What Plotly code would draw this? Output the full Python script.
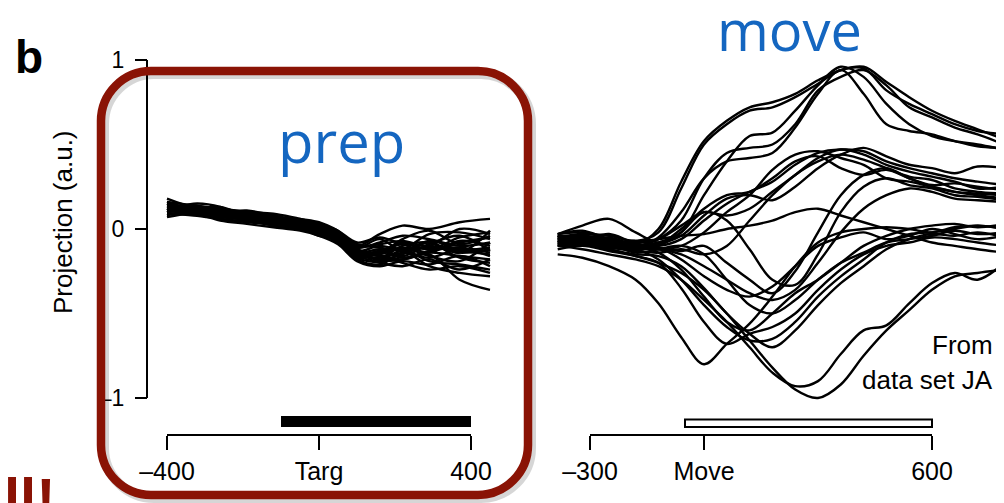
import plotly.graph_objects as go

W, H = 1004, 503

# ---------------- data ----------------
prep_t = [-400, -330, -260, -190, -120, -50, 0, 50, 100, 160, 220, 290, 370, 450]
prep_01 = [0.18, 0.13, 0.12, 0.10, 0.07, 0.05, 0.03, -0.02, -0.10, -0.03, 0.02, 0.00, 0.04, 0.06]
prep_02 = [0.12, 0.14, 0.10, 0.08, 0.06, 0.02, 0.00, -0.06, -0.15, -0.14, -0.08, -0.12, -0.05, -0.02]
prep_03 = [0.10, 0.12, 0.09, 0.06, 0.04, 0.03, 0.01, -0.04, -0.12, -0.18, -0.15, -0.10, -0.14, -0.12]
prep_04 = [0.15, 0.10, 0.11, 0.09, 0.05, 0.04, 0.02, -0.05, -0.14, -0.16, -0.20, -0.24, -0.22, -0.26]
prep_05 = [0.08, 0.11, 0.08, 0.07, 0.06, 0.01, -0.02, -0.07, -0.16, -0.19, -0.18, -0.15, -0.30, -0.36]
prep_06 = [0.13, 0.12, 0.13, 0.08, 0.07, 0.04, 0.00, -0.03, -0.11, -0.08, -0.04, -0.06, -0.10, -0.08]
prep_07 = [0.11, 0.09, 0.07, 0.06, 0.02, 0.00, -0.03, -0.08, -0.18, -0.21, -0.14, -0.17, -0.12, -0.16]
prep_08 = [0.14, 0.13, 0.10, 0.11, 0.08, 0.05, 0.01, -0.04, -0.13, -0.10, -0.12, -0.03, -0.02, -0.06]
prep_09 = [0.09, 0.08, 0.06, 0.04, 0.03, 0.02, -0.01, -0.06, -0.15, -0.17, -0.10, -0.08, -0.17, -0.20]
prep_10 = [0.16, 0.14, 0.12, 0.10, 0.09, 0.06, 0.04, -0.01, -0.08, -0.05, -0.09, -0.14, -0.07, -0.10]
prep_11 = [0.12, 0.10, 0.11, 0.07, 0.05, 0.03, 0.00, -0.05, -0.17, -0.20, -0.22, -0.18, -0.24, -0.18]
prep_12 = [0.10, 0.12, 0.08, 0.09, 0.05, 0.02, -0.01, -0.05, -0.12, -0.14, -0.06, -0.01, -0.09, -0.04]
prep_13 = [0.13, 0.11, 0.09, 0.08, 0.06, 0.04, 0.02, -0.03, -0.14, -0.12, -0.16, -0.09, -0.04, -0.13]
prep_14 = [0.07, 0.09, 0.05, 0.03, 0.01, -0.01, -0.04, -0.09, -0.19, -0.22, -0.19, -0.21, -0.16, -0.22]
prep_15 = [0.14, 0.12, 0.12, 0.09, 0.07, 0.05, 0.03, -0.02, -0.09, -0.11, -0.13, -0.11, -0.13, -0.15]
prep_16 = [0.11, 0.13, 0.10, 0.07, 0.04, 0.02, 0.00, -0.04, -0.13, -0.15, -0.11, -0.16, -0.19, -0.08]
prep_17 = [0.12, 0.10, 0.08, 0.05, 0.03, 0.01, -0.02, -0.07, -0.16, -0.13, -0.17, -0.13, -0.11, -0.14]
prep_18 = [0.15, 0.12, 0.11, 0.10, 0.08, 0.03, 0.01, -0.03, -0.10, -0.09, -0.07, -0.10, 0.00, -0.03]
prep_19 = [0.10, 0.11, 0.07, 0.06, 0.04, 0.02, -0.01, -0.06, -0.14, -0.18, -0.13, -0.22, -0.26, -0.28]
prep_20 = [0.13, 0.14, 0.11, 0.09, 0.06, 0.04, 0.01, -0.04, -0.12, -0.16, -0.14, -0.07, -0.12, -0.11]
prep_21 = [0.09, 0.10, 0.09, 0.05, 0.02, 0.00, -0.03, -0.06, -0.15, -0.13, -0.09, -0.12, -0.08, -0.05]
prep_22 = [0.12, 0.11, 0.10, 0.08, 0.06, 0.03, 0.01, -0.05, -0.13, -0.16, -0.18, -0.14, -0.16, -0.18]
prep_23 = [0.16, 0.11, 0.06, 0.05, 0.06, 0.02, -0.04, -0.05, -0.17, -0.14, -0.12, -0.19, -0.21, -0.24]
prep_24 = [0.11, 0.15, 0.13, 0.06, 0.03, 0.06, 0.02, -0.01, -0.11, -0.06, -0.13, -0.08, -0.14, -0.01]
prep_series = [prep_01, prep_02, prep_03, prep_04, prep_05, prep_06, prep_07, prep_08,
               prep_09, prep_10, prep_11, prep_12, prep_13, prep_14, prep_15, prep_16,
               prep_17, prep_18, prep_19, prep_20, prep_21, prep_22, prep_23, prep_24]

move_t = [-385, -320, -250, -180, -120, -60, 0, 60, 120, 180, 240, 300, 360, 420, 480, 540, 600, 660, 720, 790]
move_01 = [-0.03, -0.01, -0.06, -0.09, 0.00, 0.28, 0.52, 0.64, 0.72, 0.75, 0.80, 0.88, 0.94, 0.96, 0.87, 0.78, 0.70, 0.64, 0.59, 0.53]
move_02 = [-0.05, -0.03, -0.04, -0.07, -0.02, 0.24, 0.50, 0.62, 0.70, 0.72, 0.78, 0.86, 0.94, 0.95, 0.82, 0.74, 0.68, 0.62, 0.58, 0.56]
move_03 = [-0.08, -0.06, -0.10, -0.12, -0.08, -0.02, 0.20, 0.40, 0.55, 0.57, 0.70, 0.85, 0.96, 0.90, 0.74, 0.62, 0.55, 0.52, 0.50, 0.47]
move_04 = [-0.06, -0.08, -0.07, -0.10, -0.06, 0.05, 0.30, 0.45, 0.48, 0.50, 0.62, 0.82, 0.90, 0.94, 0.85, 0.72, 0.66, 0.60, 0.56, 0.50]
move_05 = [-0.04, -0.05, -0.08, -0.11, -0.05, 0.10, 0.30, 0.40, 0.42, 0.45, 0.60, 0.80, 0.94, 0.80, 0.62, 0.58, 0.56, 0.52, 0.49, 0.48]
move_06 = [-0.05, -0.04, -0.06, -0.09, -0.10, -0.06, 0.05, 0.15, 0.22, 0.28, 0.38, 0.45, 0.47, 0.46, 0.40, 0.36, 0.33, 0.30, 0.28, 0.26]
move_07 = [-0.08, -0.07, -0.05, -0.10, -0.12, -0.10, -0.02, 0.10, 0.20, 0.35, 0.44, 0.46, 0.42, 0.38, 0.30, 0.28, 0.25, 0.22, 0.20, 0.18]
move_08 = [-0.03, 0.02, 0.06, -0.02, -0.08, -0.04, 0.08, 0.18, 0.20, 0.17, 0.25, 0.36, 0.44, 0.48, 0.43, 0.38, 0.36, 0.33, 0.37, 0.36]
move_09 = [-0.10, -0.08, -0.11, -0.13, -0.14, -0.12, -0.15, -0.10, 0.05, 0.20, 0.32, 0.40, 0.44, 0.41, 0.36, 0.31, 0.29, 0.24, 0.22, 0.21]
move_10 = [-0.06, -0.05, -0.08, -0.07, -0.09, 0.00, 0.12, 0.20, 0.22, 0.30, 0.40, 0.43, 0.36, 0.32, 0.35, 0.30, 0.26, 0.27, 0.25, 0.23]
move_11 = [-0.07, -0.06, -0.09, -0.11, -0.10, -0.02, 0.10, 0.05, -0.12, -0.30, -0.33, -0.15, 0.10, 0.25, 0.30, 0.26, 0.24, 0.20, 0.19, 0.17]
move_12 = [-0.09, -0.10, -0.07, -0.12, -0.11, -0.13, -0.10, -0.20, -0.30, -0.38, -0.25, -0.02, 0.20, 0.32, 0.36, 0.30, 0.25, 0.22, 0.21, 0.20]
move_13 = [-0.04, -0.06, -0.03, -0.08, -0.06, 0.02, 0.10, 0.08, 0.12, 0.22, 0.32, 0.42, 0.47, 0.44, 0.38, 0.34, 0.31, 0.28, 0.24, 0.25]
move_14 = [-0.06, -0.08, -0.10, -0.12, -0.18, -0.30, -0.45, -0.58, -0.66, -0.65, -0.55, -0.40, -0.28, -0.18, -0.08, -0.03, -0.02, 0.00, 0.02, 0.00]
move_15 = [-0.10, -0.09, -0.12, -0.15, -0.16, -0.22, -0.35, -0.50, -0.62, -0.70, -0.60, -0.45, -0.32, -0.22, -0.12, -0.06, -0.03, -0.04, -0.02, -0.05]
move_16 = [-0.04, -0.05, -0.07, -0.10, -0.14, -0.24, -0.40, -0.55, -0.60, -0.50, -0.38, -0.30, -0.20, -0.10, -0.04, 0.00, 0.02, 0.03, 0.01, 0.03]
move_17 = [-0.12, -0.10, -0.13, -0.16, -0.20, -0.35, -0.55, -0.68, -0.62, -0.58, -0.50, -0.36, -0.24, -0.15, -0.10, -0.08, -0.05, -0.06, -0.08, -0.10]
move_18 = [-0.08, -0.07, -0.09, -0.14, -0.12, -0.10, -0.15, -0.30, -0.45, -0.50, -0.42, -0.30, -0.20, -0.14, -0.08, -0.06, -0.04, -0.01, -0.03, -0.02]
move_19 = [-0.15, -0.17, -0.22, -0.30, -0.44, -0.64, -0.80, -0.68, -0.56, -0.40, -0.22, -0.08, -0.02, 0.00, 0.01, 0.00, -0.02, 0.01, 0.02, 0.00]
move_20 = [-0.10, -0.12, -0.15, -0.18, -0.22, -0.30, -0.42, -0.55, -0.70, -0.85, -0.93, -0.90, -0.74, -0.60, -0.57, -0.44, -0.32, -0.26, -0.30, -0.20]
move_21 = [-0.05, -0.08, -0.12, -0.16, -0.20, -0.26, -0.36, -0.50, -0.66, -0.82, -0.95, -1.00, -0.92, -0.75, -0.60, -0.48, -0.36, -0.28, -0.26, -0.24]
move_22 = [-0.07, -0.09, -0.08, -0.11, -0.12, -0.15, -0.22, -0.30, -0.38, -0.42, -0.36, -0.20, -0.02, 0.12, 0.20, 0.24, 0.22, 0.18, 0.17, 0.16]
move_23 = [-0.03, -0.02, -0.06, -0.09, -0.11, -0.18, -0.28, -0.36, -0.40, -0.34, -0.22, -0.10, -0.05, -0.02, -0.06, -0.04, 0.00, -0.03, -0.06, -0.04]
move_24 = [-0.09, -0.07, -0.10, -0.08, -0.06, -0.04, -0.03, 0.00, 0.02, 0.05, 0.10, 0.12, 0.08, 0.04, 0.00, -0.04, -0.08, -0.10, -0.12, -0.14]
move_series = [move_01, move_02, move_03, move_04, move_05, move_06, move_07, move_08,
               move_09, move_10, move_11, move_12, move_13, move_14, move_15, move_16,
               move_17, move_18, move_19, move_20, move_21, move_22, move_23, move_24]

prep_tickvals = [-400, 0, 400]
prep_ticktext = ["–400", "Targ", "400"]
move_tickvals = [-300, 0, 600]
move_ticktext = ["–300", "Move", "600"]
y_tickvals = [-1, 0, 1]
y_ticktext = ["–1", "0", "1"]
prep_axis_span = [-400, 400]
move_axis_span = [-300, 600]
y_axis_span = [-1, 1]
prep_bar = [-100, 400]
move_bar = [-50, 600]

# ---------------- layout helpers ----------------
# the page body adds an 8px offset; work in screen pixels and compensate
OX, OY = 8, 8

def PX(x):
    return (x - OX) / W

def PY(y):
    return 1 - (y - OY) / H

BLUE = "#1466C0"
RED = "#8A1305"
FONT = "Liberation Sans, Arial, sans-serif"
LW = 2.4

fig = go.Figure()

for s in prep_series:
    fig.add_trace(go.Scatter(x=prep_t, y=s, mode="lines", xaxis="x", yaxis="y",
                             line=dict(color="black", width=LW, shape="spline", smoothing=1.0),
                             showlegend=False, hoverinfo="skip"))
for s in move_series:
    fig.add_trace(go.Scatter(x=move_t, y=s, mode="lines", xaxis="x2", yaxis="y2",
                             line=dict(color="black", width=LW, shape="spline", smoothing=1.0),
                             showlegend=False, hoverinfo="skip"))

scale = 0.38  # px per ms
L1, R1 = 163.0, 494.0
L2, R2 = 555.0, 1012.0
xr1 = [(L1 - 319) / scale, (R1 - 319) / scale]
xr2 = [(L2 - 704) / scale, (R2 - 704) / scale]
yr = [-1.05, 1.05]
ypx = 169.0
y_top = 229 - yr[1] * ypx
y_bot = 229 - yr[0] * ypx
ydom = [PY(y_bot), PY(y_top)]
xpos = PY(435)

tickfont = dict(family=FONT, size=25, color="black")
fig.update_layout(
    width=W, height=H, autosize=False, showlegend=False,
    margin=dict(l=0, r=0, t=0, b=0, pad=0, autoexpand=False),
    paper_bgcolor="white", plot_bgcolor="white",
    xaxis=dict(domain=[PX(L1), PX(R1)], range=xr1, anchor="free", position=xpos,
               showgrid=False, zeroline=False, showline=False, automargin=False,
               tickmode="array", tickvals=prep_tickvals, ticktext=prep_ticktext,
               ticks="outside", ticklen=14, tickwidth=2, tickcolor="black",
               tickfont=tickfont),
    xaxis2=dict(domain=[PX(L2), PX(R2)], range=xr2, anchor="free", position=xpos,
                showgrid=False, zeroline=False, showline=False, automargin=False,
                tickmode="array", tickvals=move_tickvals, ticktext=move_ticktext,
                ticks="outside", ticklen=14, tickwidth=2, tickcolor="black",
                tickfont=tickfont),
    yaxis=dict(domain=ydom, range=yr, anchor="free", position=PX(147),
               showgrid=False, zeroline=False, showline=False, automargin=False,
               tickmode="array", tickvals=y_tickvals, ticktext=y_ticktext,
               ticks="outside", ticklen=12, tickwidth=2, tickcolor="black",
               ticklabelstandoff=6,
               tickfont=dict(family=FONT, size=23, color="black")),
    yaxis2=dict(domain=ydom, range=yr, anchor="x2", visible=False, automargin=False),
)

shapes = []
# axis lines
shapes.append(dict(type="line", xref="x", yref="paper", x0=prep_axis_span[0], x1=prep_axis_span[1],
                   y0=xpos, y1=xpos, line=dict(color="black", width=2)))
shapes.append(dict(type="line", xref="x2", yref="paper", x0=move_axis_span[0], x1=move_axis_span[1],
                   y0=xpos, y1=xpos, line=dict(color="black", width=2)))
shapes.append(dict(type="line", xref="paper", yref="y", x0=PX(147), x1=PX(147),
                   y0=y_axis_span[0], y1=y_axis_span[1], line=dict(color="black", width=2)))
# epoch bars
shapes.append(dict(type="rect", xref="x", yref="paper", x0=prep_bar[0], x1=prep_bar[1],
                   y0=PY(427), y1=PY(416), fillcolor="black", line=dict(width=0)))
shapes.append(dict(type="rect", xref="x2", yref="paper", x0=move_bar[0], x1=move_bar[1],
                   y0=PY(427), y1=PY(419.5), fillcolor="white", line=dict(color="black", width=2)))

# rounded red box (pixel geometry -> paper)
def rounded(x0, y0, x1, y1, r, dx=0, dy=0):
    x0 += dx; x1 += dx; y0 += dy; y1 += dy
    k = 0.45
    p = lambda x, y: f"{PX(x):.5f},{PY(y):.5f}"
    return (f"M {p(x0 + r, y0)} L {p(x1 - r, y0)} "
            f"C {p(x1 - r * k, y0)} {p(x1, y0 + r * k)} {p(x1, y0 + r)} "
            f"L {p(x1, y1 - r)} "
            f"C {p(x1, y1 - r * k)} {p(x1 - r * k, y1)} {p(x1 - r, y1)} "
            f"L {p(x0 + r, y1)} "
            f"C {p(x0 + r * k, y1)} {p(x0, y1 - r * k)} {p(x0, y1 - r)} "
            f"L {p(x0, y0 + r)} "
            f"C {p(x0, y0 + r * k)} {p(x0 + r * k, y0)} {p(x0 + r, y0)} Z")

shapes.append(dict(type="path", xref="paper", yref="paper", layer="above",
                   path=rounded(101, 71, 528, 495, 50, 3, 3),
                   line=dict(color="rgba(0,0,0,0.16)", width=10)))
shapes.append(dict(type="path", xref="paper", yref="paper", layer="above",
                   path=rounded(101, 71, 528, 495, 50),
                   line=dict(color=RED, width=8.5)))
fig.update_layout(shapes=shapes)

ann = []
ann.append(dict(text="<b>b</b>", x=PX(29), y=PY(57), xref="paper", yref="paper",
                showarrow=False, xanchor="center", yanchor="middle",
                font=dict(family=FONT, size=46, color="black")))
ann.append(dict(text="prep", x=PX(341), y=PY(140), xref="paper", yref="paper",
                showarrow=False, xanchor="center", yanchor="middle",
                font=dict(family="Open Sans", size=58, color=BLUE)))
ann.append(dict(text="move", x=PX(789), y=PY(29), xref="paper", yref="paper",
                showarrow=False, xanchor="center", yanchor="middle",
                font=dict(family="Open Sans", size=56, color=BLUE)))
ann.append(dict(text="Projection (a.u.)", x=PX(63), y=PY(222), xref="paper", yref="paper",
                showarrow=False, xanchor="center", yanchor="middle", textangle=-90,
                font=dict(family=FONT, size=26, color="black")))
ann.append(dict(text="From", x=PX(995), y=PY(345), xref="paper", yref="paper",
                showarrow=False, xanchor="right", yanchor="middle",
                font=dict(family=FONT, size=26, color="black")))
ann.append(dict(text="data set JA", x=PX(995), y=PY(380), xref="paper", yref="paper",
                showarrow=False, xanchor="right", yanchor="middle",
                font=dict(family=FONT, size=26, color="black")))
ann.append(dict(text="<b>ll!</b>", x=PX(2), y=PY(464), xref="paper", yref="paper",
                showarrow=False, xanchor="left", yanchor="top",
                font=dict(family=FONT, size=58, color=RED)))
fig.update_layout(annotations=ann)

fig.write_html("out.html")
